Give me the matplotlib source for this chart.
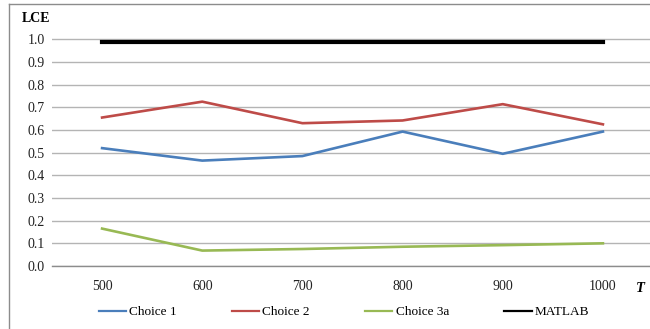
import matplotlib
matplotlib.use("Agg")
import matplotlib.pyplot as plt
from matplotlib.lines import Line2D

# ── Data ─────────────────────────────────────────────────────────────────────
T_LABELS = ["500", "600", "700", "800", "900", "1000"]
CHOICE_1 = [0.52, 0.465, 0.485, 0.593, 0.495, 0.593]
CHOICE_2 = [0.655, 0.725, 0.630, 0.642, 0.714, 0.625]
CHOICE_3A = [0.165, 0.068, 0.075, 0.085, 0.092, 0.100]
MATLAB = [0.99, 0.99, 0.99, 0.99, 0.99, 0.99]
Y_TICKS = [0.0, 0.1, 0.2, 0.3, 0.4, 0.5, 0.6, 0.7, 0.8, 0.9, 1.0]

plt.rcParams["font.family"] = ["Liberation Serif", "DejaVu Serif"]

fig = plt.figure(figsize=(6.5, 3.29), dpi=100)

# outer chart frame: only its left and top edges show in the crop
fx, fy = 8.5 / 650, 1 - 3.5 / 329
fig.lines.append(Line2D([fx, fx], [0, fy], transform=fig.transFigure,
                        color="#8c8c8c", lw=1.0))
fig.lines.append(Line2D([fx, 1], [fy, fy], transform=fig.transFigure,
                        color="#8c8c8c", lw=1.0))

ax = fig.add_axes([52 / 650, 63 / 329, 598 / 650, 238 / 329])
x = range(len(T_LABELS))

ax.plot(x, CHOICE_1, color="#4a7ebb", lw=1.9, label="Choice 1")
ax.plot(x, CHOICE_2, color="#be4b48", lw=1.9, label="Choice 2")
ax.plot(x, CHOICE_3A, color="#98b954", lw=1.9, label="Choice 3a")
ax.plot(x, MATLAB, color="black", lw=3.0, label="MATLAB")

ax.set_xlim(-0.5, 5.47)
ax.set_ylim(0, 1.05)
ax.set_yticks(Y_TICKS)
ax.set_yticklabels([f"{v:.1f}" for v in Y_TICKS])
ax.set_xticks(list(x))
ax.set_xticklabels(T_LABELS)
ax.tick_params(axis="both", length=0, labelsize=10, colors="#222222")
ax.tick_params(axis="x", pad=10)
ax.tick_params(axis="y", pad=5)

ax.grid(axis="y", color="#b4b4b4", lw=1.0)
ax.set_axisbelow(True)
for side in ["top", "right", "left"]:
    ax.spines[side].set_visible(False)
ax.spines["bottom"].set_color("#8c8c8c")
ax.spines["bottom"].set_linewidth(1.0)

fig.text(36 / 650, 1 - 19 / 329, "LCE", fontsize=10, fontweight="bold",
         ha="center", va="center")
fig.text(640 / 650, 1 - 288 / 329, "T", fontsize=10.5, fontweight="bold",
         style="italic", ha="center", va="center")

leg = fig.legend(loc="center", bbox_to_anchor=(344 / 650, 1 - 312 / 329),
                 ncol=4, frameon=False, fontsize=9.5, handlelength=2.05,
                 handletextpad=0.25, columnspacing=4.2)
# legend keys are all drawn with the same thin stroke
for handle in leg.get_lines():
    handle.set_linewidth(1.6)

fig.savefig("out.png", dpi=100)
